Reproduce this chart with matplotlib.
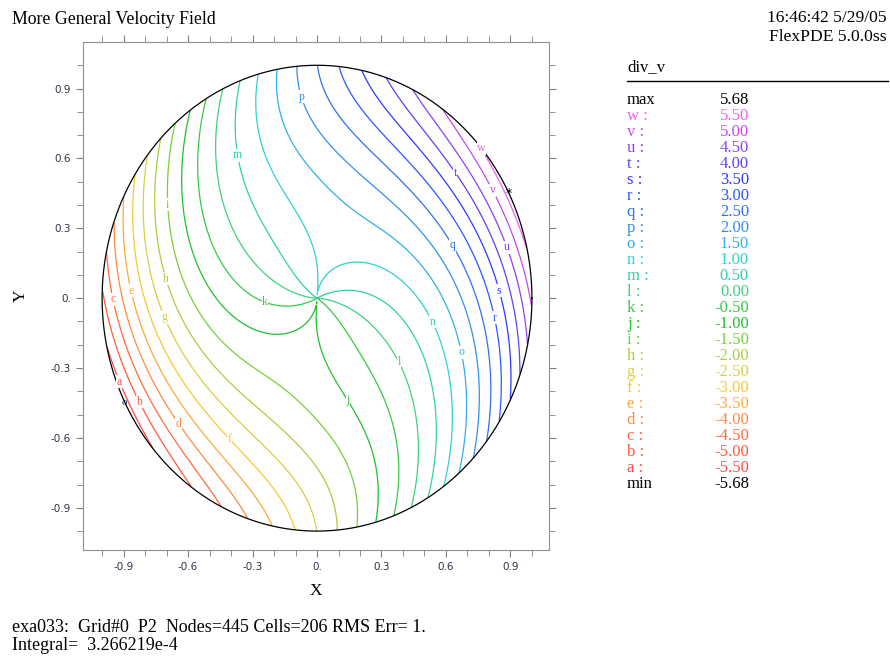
import numpy as np
import matplotlib.pyplot as plt

letters = list("abcdefghijklmnopqrstuvw")
levels = [-5.5, -5.0, -4.5, -4.0, -3.5, -3.0, -2.5, -2.0, -1.5, -1.0, -0.5, 0.0,
          0.5, 1.0, 1.5, 2.0, 2.5, 3.0, 3.5, 4.0, 4.5, 5.0, 5.5]
colors = ["#ff4a4a", "#ff5a3c", "#ff6a3a", "#ff8a40", "#ffa838", "#f8c830",
          "#d8d040", "#a8d040", "#78d038", "#20c030", "#38c848", "#40d080",
          "#30d0a8", "#30d0d8", "#30b0e8", "#3090f0", "#3070f0", "#2858ff",
          "#3038ff", "#6040f0", "#8c40f0", "#c848f0", "#f060f0"]
vmax, vmin = 5.68, -5.68

# field description: amplitude at centre / rim, angle of the max
amp_centre, amp_rim = 1.0, 5.68
angle_centre, angle_rim = 88.0, 26.0

# where FlexPDE put the contour letters (approx.)
label_pos = {
    "a": (-0.94, -0.37), "b": (-0.855, -0.46), "c": (-0.98, -0.01),
    "d": (-0.67, -0.56), "e": (-0.92, 0.02), "f": (-0.42, -0.62),
    "g": (-0.75, -0.10), "h": (-0.75, 0.07), "i": (-0.75, 0.40),
    "j": (0.17, -0.42), "k": (-0.24, -0.01), "l": (0.39, -0.27),
    "m": (-0.39, 0.61), "n": (0.52, -0.11), "o": (0.69, -0.23),
    "p": (-0.09, 0.86), "q": (0.62, 0.22), "r": (0.85, -0.08),
    "s": (0.87, 0.04), "t": (0.66, 0.55), "u": (0.89, 0.22),
    "v": (0.83, 0.47), "w": (0.75, 0.64),
}

legend_rows = [("max", "5.68")] + \
    [(letters[i] + " :", "%.2f" % levels[i]) for i in range(len(levels) - 1, -1, -1)] + \
    [("min", "-5.68")]

n = 700
xs = np.linspace(-1.0, 1.0, n)
X, Y = np.meshgrid(xs, xs)
R = np.hypot(X, Y)
T = np.arctan2(Y, X)
amp = amp_centre + (amp_rim - amp_centre) * R**2.5
phase = np.radians(angle_centre - (angle_centre - angle_rim) * R**0.8)
F = amp * np.cos(T - phase)
F = np.ma.masked_where(R > 1.0, F)

fig = plt.figure(figsize=(8.9, 6.56), dpi=100)
ax = fig.add_axes([0.093, 0.162, 0.524, 0.774])

cs = ax.contour(X, Y, F, levels=levels, colors=colors, linewidths=0.9,
                linestyles="solid")

th = np.linspace(0, 2 * np.pi, 400)
ax.plot(np.cos(th), np.sin(th), color="black", lw=0.9)

# letter labels on the lines
for i, let in enumerate(letters):
    segs = cs.allsegs[i]
    if not segs:
        continue
    pts = np.vstack(segs)
    px, py = label_pos[let]
    k = np.argmin((pts[:, 0] - px) ** 2 + (pts[:, 1] - py) ** 2)
    ax.text(pts[k, 0], pts[k, 1], let, color=colors[i], fontsize=8.5,
            family="Liberation Serif", ha="center", va="center",
            bbox=dict(facecolor="white", edgecolor="none", pad=0.3))

# max / min markers
imax = np.unravel_index(np.argmax(F), F.shape)
imin = np.unravel_index(np.argmin(F), F.shape)
ax.text(X[imax], Y[imax], "*", fontsize=9, ha="center", va="center", color="black")
ax.text(X[imin], Y[imin], "o", fontsize=8, ha="center", va="center",
        color="#203060", family="Liberation Serif")

ax.set_xlim(-1.09, 1.08)
ax.set_ylim(-1.08, 1.10)
ticks = [-0.9, -0.6, -0.3, 0.0, 0.3, 0.6, 0.9]
ticklabels = ["-0.9", "-0.6", "-0.3", "0.", "0.3", "0.6", "0.9"]
ax.set_xticks(ticks)
ax.set_xticklabels(ticklabels)
ax.set_yticks(ticks)
ax.set_yticklabels(ticklabels)
ax.set_xticks(np.arange(-1.0, 1.01, 0.1), minor=True)
ax.set_yticks(np.arange(-1.0, 1.01, 0.1), minor=True)
ax.tick_params(which="both", direction="out", top=True, right=True,
               color="#808080", labelsize=7.5, labelcolor="#303048")
ax.tick_params(which="major", length=5)
ax.tick_params(which="minor", length=4)
for sp in ax.spines.values():
    sp.set_color("#909090")
ax.set_xlabel("X", family="Liberation Serif", fontsize=12.5, labelpad=8)
ax.set_ylabel("Y", family="Liberation Serif", fontsize=12.5, labelpad=16)

serif = "Liberation Serif"
fig.text(12 / 890, 1 - 20 / 656, "More General Velocity Field", family=serif,
         fontsize=12.8, va="center")
fig.text(887 / 890, 1 - 18 / 656, "16:46:42 5/29/05", family=serif,
         fontsize=12.6, va="center", ha="right")
fig.text(887 / 890, 1 - 37 / 656, "FlexPDE 5.0.0ss", family=serif,
         fontsize=12.6, va="center", ha="right")
fig.text(627 / 890, 1 - 67 / 656, "div_v", family=serif, fontsize=12, va="center")
fig.add_artist(plt.Line2D([627 / 890, 888 / 890], [1 - 81 / 656, 1 - 81 / 656],
                          color="black", lw=1))

for j, (lab, val) in enumerate(legend_rows):
    yy = 1 - (100 + 16 * j) / 656
    if lab in ("max", "min"):
        c = "black"
    else:
        c = colors[letters.index(lab[0])]
    fig.text(627 / 890, yy, lab, family=serif, fontsize=12, color=c, va="center")
    fig.text(749 / 890, yy, val, family=serif, fontsize=12, color=c,
             va="center", ha="right")

fig.text(12 / 890, 1 - 627 / 656,
         "exa033:  Grid#0  P2  Nodes=445 Cells=206 RMS Err= 1.",
         family=serif, fontsize=13, va="center")
fig.text(12 / 890, 1 - 645 / 656, "Integral=  3.266219e-4", family=serif,
         fontsize=13, va="center")

fig.savefig("out.png", dpi=100)
